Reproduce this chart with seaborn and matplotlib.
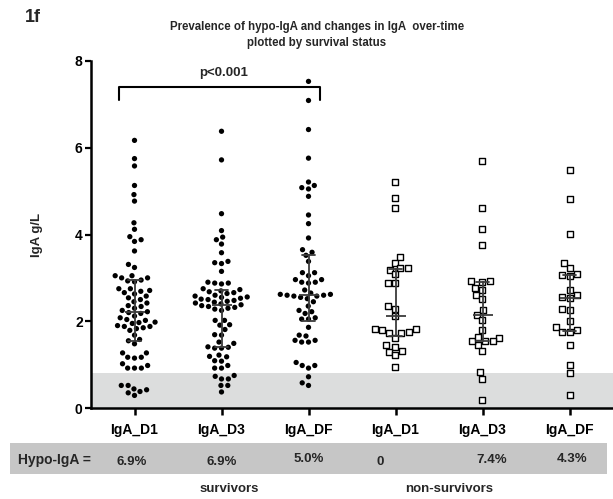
import numpy as np
import pandas as pd
import matplotlib
matplotlib.use("Agg")
import matplotlib.pyplot as plt
import seaborn as sns
from matplotlib.patches import Rectangle
from matplotlib.transforms import blended_transform_factory

# ---------------- data ----------------
group_keys = ["surv_D1", "surv_D3", "surv_DF", "non_D1", "non_D3", "non_DF"]
tick_labels = ["IgA_D1", "IgA_D3", "IgA_DF", "IgA_D1", "IgA_D3", "IgA_DF"]

surv_D1 = [6.17, 5.75, 5.58, 5.13, 4.92, 4.77, 4.27, 4.12, 3.95, 3.88, 3.84, 3.62, 3.31, 3.24,
           3.05, 3.05, 3.00, 3.00, 2.95, 2.93, 2.91,
           2.75, 2.75, 2.71, 2.69, 2.66, 2.63,
           2.58, 2.54, 2.50, 2.45,
           2.42, 2.36, 2.34, 2.30, 2.25, 2.22, 2.20, 2.18, 2.12, 2.08,
           2.04, 2.02, 1.98, 1.97, 1.95, 1.90, 1.88, 1.88, 1.85, 1.83, 1.79,
           1.68, 1.58, 1.55, 1.48,
           1.27, 1.27, 1.17, 1.17, 1.15,
           1.02, 0.98, 0.92, 0.92, 0.92,
           0.52, 0.52, 0.44, 0.42, 0.38, 0.35, 0.29]
surv_D3 = [6.38, 5.72, 4.48, 4.09, 3.94, 3.88, 3.78, 3.58, 3.38, 3.35, 3.33, 3.15,
           2.90, 2.88, 2.88, 2.86,
           2.75, 2.73, 2.70, 2.68, 2.66, 2.64,
           2.60, 2.58, 2.56, 2.55, 2.53, 2.51, 2.50, 2.48,
           2.46, 2.44, 2.42, 2.40, 2.38, 2.36, 2.34, 2.32, 2.30, 2.28, 2.25,
           2.02, 2.02, 1.92, 1.91, 1.81, 1.69, 1.68,
           1.52, 1.49, 1.41, 1.40, 1.38, 1.38,
           1.22, 1.19, 1.18, 1.09, 1.08,
           0.98, 0.92, 0.92,
           0.75, 0.73, 0.67, 0.67,
           0.52, 0.52, 0.37]
surv_DF = [7.53, 7.09, 6.42, 5.76, 5.21, 5.13, 5.08, 5.05, 4.88, 4.45, 4.25, 3.92, 3.65, 3.59, 3.52, 3.38,
           3.12, 3.05, 3.12, 2.96, 2.96, 2.90, 2.90, 2.88,
           2.72, 2.65, 2.62, 2.62, 2.60, 2.60, 2.58, 2.58, 2.55, 2.52, 2.45, 2.35,
           2.25, 2.22, 2.18, 2.08, 2.05, 2.05, 1.86,
           1.68, 1.66, 1.56, 1.52, 1.52, 1.56,
           1.05, 0.98, 0.98, 0.92,
           0.72, 0.58, 0.52]
non_D1 = [5.22, 4.84, 4.62, 3.48, 3.35, 3.23, 3.19, 3.22, 3.08, 2.88, 2.89, 2.35, 2.29, 2.12,
          1.82, 1.80, 1.73, 1.72, 1.75, 1.82, 1.62, 1.41, 1.46, 1.30, 1.22, 1.31, 0.95]
non_D3 = [5.70, 4.62, 4.12, 3.75, 2.91, 2.92, 2.92, 2.77, 2.73, 2.60, 2.52, 2.25, 2.14, 2.02,
          1.79, 1.62, 1.54, 1.54, 1.46, 1.55, 1.63, 1.32, 0.83, 0.67, 0.19]
non_DF = [5.48, 4.82, 4.02, 3.35, 3.23, 3.08, 3.06, 3.05, 2.73, 2.60, 2.54, 2.56, 2.29, 2.25,
          2.00, 1.86, 1.75, 1.75, 1.79, 1.46, 0.98, 0.81, 0.30]

hypo_threshold = 0.8
hypo_labels = ["6.9%", "6.9%", "5.0%", "0", "7.4%", "4.3%"]
p_text = "p<0.001"

# ---------------- frames ----------------
surv_df = pd.concat([pd.DataFrame({"group": k, "value": v}) for k, v in
                     zip(group_keys[:3], [surv_D1, surv_D3, surv_DF])], ignore_index=True)
non_df = pd.concat([pd.DataFrame({"group": k, "value": v}) for k, v in
                    zip(group_keys[3:], [non_D1, non_D3, non_DF])], ignore_index=True)
all_df = pd.concat([surv_df, non_df], ignore_index=True)

# ---------------- figure ----------------
sns.set_theme(style="ticks")
plt.rcParams["font.family"] = ["Liberation Sans", "DejaVu Sans"]
plt.rcParams["font.weight"] = "bold"

W, H = 613, 499
fig = plt.figure(figsize=(W / 100, H / 100), dpi=100)
ax = fig.add_axes([91 / W, 1 - 408 / H, 1 - 91 / W, (408 - 61) / H])

ax.axhspan(0, hypo_threshold, color="#dcdddd", lw=0, zorder=0)

sns.swarmplot(data=surv_df, x="group", y="value", order=group_keys, color="black",
              size=3.8, edgecolor="none", linewidth=0.9, ax=ax, zorder=3)
sns.swarmplot(data=non_df, x="group", y="value", order=group_keys, color="white",
              marker="s", size=4.3, edgecolor="black", linewidth=1.0, ax=ax, zorder=3)
sns.pointplot(data=all_df, x="group", y="value", order=group_keys, estimator="median",
              errorbar=("pi", 50), capsize=0.15, linestyle="none", marker="_",
              markersize=14, markeredgewidth=1.3, color="#3c3c3c",
              err_kws={"linewidth": 1.3}, ax=ax, zorder=5)

ax.set_xlim(-0.5, 5.5)
ax.set_ylim(0, 8)
ax.set_yticks([0, 2, 4, 6, 8])
ax.set_xticks(range(6))
ax.set_xticklabels(tick_labels)
ax.set_xlabel("")
ax.set_ylabel("")
for s in ["top", "right"]:
    ax.spines[s].set_visible(False)
for s in ["left", "bottom"]:
    ax.spines[s].set_linewidth(1.8)
    ax.spines[s].set_color("black")
ax.tick_params(axis="y", length=4, width=1.6, pad=2, labelsize=10, colors="black")
ax.tick_params(axis="x", length=5, width=1.8, pad=6, labelsize=10, colors="black")
for lab in ax.get_xticklabels() + ax.get_yticklabels():
    lab.set_fontweight("bold")

# significance bracket
bx = [-0.178, -0.178, 2.132, 2.132]
by = [7.09, 7.41, 7.41, 7.09]
ax.plot(bx, by, color="black", lw=1.5, clip_on=False, zorder=6)
ax.text(1.02, 7.72, p_text, ha="center", va="center", fontsize=9.5, fontweight="bold")

# titles and labels
fig.text(25 / W, 1 - 17 / H, "1f", fontsize=13, fontweight="bold", ha="left", va="center")
title_font = ["Liberation Sans Narrow", "Liberation Sans", "DejaVu Sans"]
fig.text(317 / W, 1 - 27 / H, "Prevalence of hypo-IgA and changes in IgA  over-time",
         fontsize=8.3, fontweight="bold", ha="center", va="center", family=title_font)
fig.text(317 / W, 1 - 43 / H, "plotted by survival status",
         fontsize=8.3, fontweight="bold", ha="center", va="center", family=title_font)
fig.text(37 / W, 1 - 235 / H, "IgA g/L", rotation=90, fontsize=9.5, fontweight="bold",
         ha="center", va="center")

# hypo-IgA band
fig.add_artist(Rectangle((10 / W, 1 - 474 / H), (607 - 10) / W, 31 / H,
                         transform=fig.transFigure, facecolor="#c6c6c6", edgecolor="none", zorder=0))
fig.text(18 / W, 1 - 460 / H, "Hypo-IgA =", fontsize=10, fontweight="bold", ha="left", va="center")
trans = blended_transform_factory(ax.transData, fig.transFigure)
x_shift = [-0.03, 0.0, 0.0, -0.18, 0.1, 0.03]
y_px = [462, 462, 459, 462, 460, 459]
for i, lab in enumerate(hypo_labels):
    ax.text(i + x_shift[i], 1 - y_px[i] / H, lab, transform=trans, ha="center", va="center",
            fontsize=9.5, fontweight="bold", clip_on=False)

fig.text(229 / W, 1 - 489 / H, "survivors", fontsize=9.5, fontweight="bold", ha="center", va="center")
fig.text(449 / W, 1 - 489 / H, "non-survivors", fontsize=9.5, fontweight="bold", ha="center", va="center")

fig.savefig("out.png", dpi=100)
